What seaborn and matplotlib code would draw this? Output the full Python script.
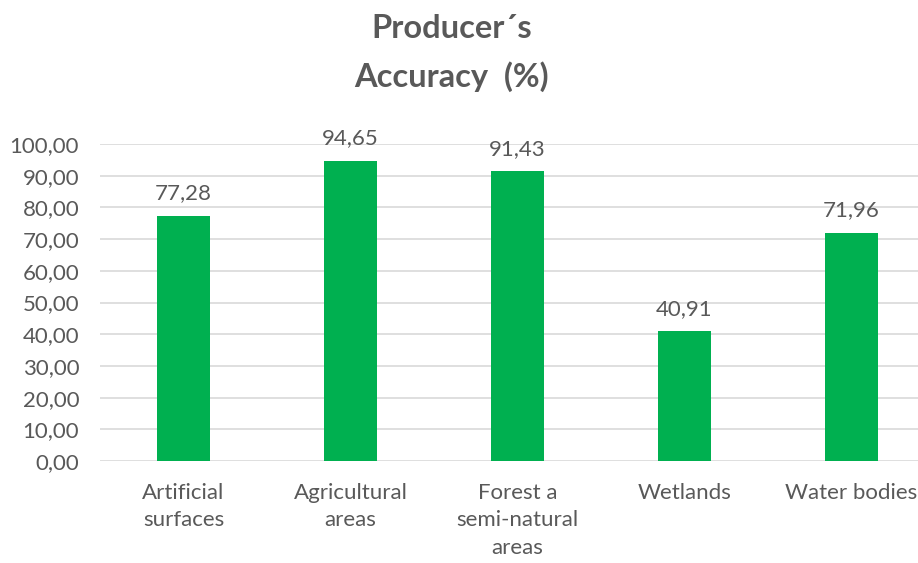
import matplotlib
matplotlib.use("Agg")
import matplotlib.pyplot as plt
import seaborn as sns
import pandas as pd

categories = ["Artificial\nsurfaces", "Agricultural\nareas", "Forest a\nsemi-natural\nareas", "Wetlands", "Water bodies"]
values = [77.28, 94.65, 91.43, 40.91, 71.96]
yticks = [0, 10, 20, 30, 40, 50, 60, 70, 80, 90, 100]
title = "Producer´s\nAccuracy  (%)"

sns.set_style("white")
plt.rcParams['font.family'] = ['Lato', 'DejaVu Sans']

gray = "#595959"
green = "#00B050"

df = pd.DataFrame({"cat": categories, "val": values})

fig = plt.figure(figsize=(9.18, 5.63), dpi=100)
W, H = 918, 563
ax = fig.add_axes([100 / W, 102 / H, 835 / W, 317 / H])

sns.barplot(data=df, x="cat", y="val", color=green, width=0.32, ax=ax,
            saturation=1, edgecolor="none", zorder=3)

ax.set_ylim(0, 100)
ax.set_xlim(-0.5, 4.5)
ax.set_yticks(yticks)
ax.set_yticklabels([f"{v:.2f}".replace(".", ",") for v in yticks])
ax.yaxis.grid(True, color="#D9D9D9", linewidth=1.2, zorder=0)
ax.set_axisbelow(True)
for s in ax.spines.values():
    s.set_visible(False)
ax.tick_params(axis="y", length=0, pad=15, labelsize=16, labelcolor=gray)
ax.tick_params(axis="x", length=0, pad=16, labelsize=16, labelcolor=gray)
ax.set_xlabel("")
ax.set_ylabel("")

for lbl in ax.get_xticklabels():
    lbl.set_linespacing(1.45)

for c in ax.containers:
    ax.bar_label(c, labels=[f"{v:.2f}".replace(".", ",") for v in values],
                 padding=9, fontsize=16, color=gray)

fig.text(452 / W, 1 - 14 / H, title, ha="center", va="top",
         fontsize=23.5, fontweight="bold", color=gray, linespacing=1.7)

fig.savefig("out.png", dpi=100)
